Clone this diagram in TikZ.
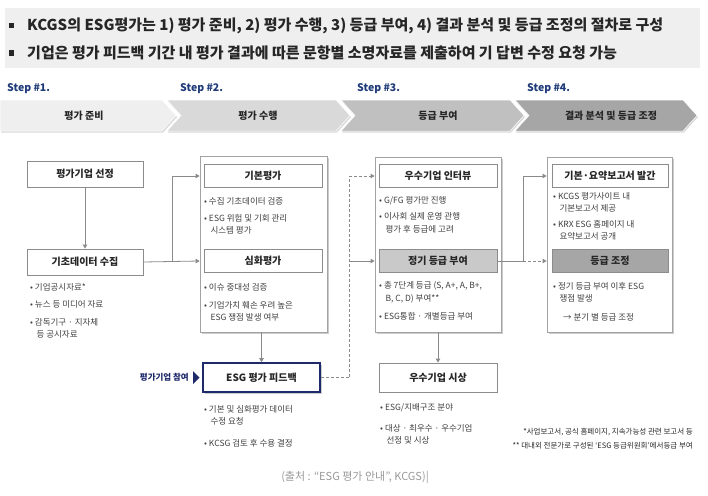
\documentclass[tikz,border=0pt]{standalone}
\usepackage{fontspec}
\setmainfont{Noto Sans CJK KR}
\usetikzlibrary{arrows.meta, shadows}

\definecolor{stepblue}{HTML}{1F3A78}
\definecolor{navy}{HTML}{1F2A6B}
\definecolor{headbg}{HTML}{EFEFEF}
\definecolor{chevA}{HTML}{EFEFEF}
\definecolor{chevB}{HTML}{D9D9D9}
\definecolor{chevC}{HTML}{C0C0C0}
\definecolor{chevD}{HTML}{A6A6A6}
\definecolor{linegray}{HTML}{8A8A8A}
\definecolor{boxgray}{HTML}{8C8C8C}
\definecolor{titletext}{HTML}{262626}
\definecolor{bultext}{HTML}{404040}

\tikzset{
  box/.style={draw=boxgray, fill=white, line width=0.8pt, minimum width=118pt, minimum height=23pt, inner sep=0pt, font=\fontsize{10}{12}\selectfont\bfseries, text=titletext},
  frame/.style={draw=boxgray!80, fill=white, line width=0.8pt, inner sep=0pt, drop shadow={shadow xshift=1.5pt, shadow yshift=-1.5pt, fill=black!40, opacity=.5}},
  bul/.style={anchor=west, align=left, inner sep=0pt, font=\fontsize{8.5}{12.5}\selectfont, text=bultext},
  chev/.style={draw=white, line width=0.5pt, drop shadow={shadow xshift=1pt, shadow yshift=-1.5pt, fill=black!30, opacity=.5}},
  chevtext/.style={font=\fontsize{10}{12}\selectfont\bfseries, text=titletext},
  steplabel/.style={anchor=west, inner sep=0pt, font=\fontsize{10.5}{12}\selectfont\bfseries, text=stepblue},
  line/.style={draw=linegray, line width=0.8pt},
  conn/.style={line, -{Triangle[width=4.5pt,length=4pt]}},
  dconn/.style={conn, dash pattern=on 3pt off 2pt},
  note/.style={anchor=east, inner sep=0pt, font=\fontsize{7.5}{9}\selectfont, text=titletext}
}

\begin{document}
\begin{tikzpicture}[x=1pt, y=-1pt]
\useasboundingbox (0,0) rectangle (708,495);

%Encabezado
\fill[headbg] (5,8) rectangle (700,68);
\fill[titletext] (9,23.5) rectangle (14,28.5);
\fill[titletext] (9,50.5) rectangle (14,55.5);
\node[anchor=west, inner sep=0pt, font=\fontsize{15}{17}\selectfont\bfseries, text=titletext] (head1) at (27,26) {KCGS의 ESG평가는 1) 평가 준비, 2) 평가 수행, 3) 등급 부여, 4) 결과 분석 및 등급 조정의 절차로 구성};
\node[anchor=west, inner sep=0pt, font=\fontsize{15}{17}\selectfont\bfseries, text=titletext] (head2) at (27,53) {기업은 평가 피드백 기간 내 평가 결과에 따른 문항별 소명자료를 제출하여 기 답변 수정 요청 가능};

%Pasos
\node[steplabel] (st1) at (7,89) {Step \#1.};
\node[steplabel] (st2) at (180,89) {Step \#2.};
\node[steplabel] (st3) at (357,89) {Step \#3.};
\node[steplabel] (st4) at (527,89) {Step \#4.};

\fill[chev, fill=chevA] (0,100) -- (162,100) -- (176,115.5) -- (162,131) -- (0,131) -- cycle;
\fill[chev, fill=chevB] (167,100) -- (336,100) -- (350,115.5) -- (336,131) -- (167,131) -- (181,115.5) -- cycle;
\fill[chev, fill=chevC] (341,100) -- (510,100) -- (524,115.5) -- (510,131) -- (341,131) -- (355,115.5) -- cycle;
\fill[chev, fill=chevD] (515,100) -- (683,100) -- (697,115.5) -- (683,131) -- (515,131) -- (529,115.5) -- cycle;
\node[chevtext] (ch1) at (84,116) {평가 준비};
\node[chevtext] (ch2) at (258,116) {평가 수행};
\node[chevtext] (ch3) at (438,116) {등급 부여};
\node[chevtext] (ch4) at (611,116) {결과 분석 및 등급 조정};

%Columna 1
\node[box, minimum width=116pt, minimum height=26pt] (sel) at (85,174) {평가기업 선정};
\node[box, minimum width=116pt, minimum height=26pt] (col) at (85,262) {기초데이터 수집};
\node[bul] (b11) at (30,287) {\textbullet\ 기업공시자료*};
\node[bul] (b12) at (30,304) {\textbullet\ 뉴스 등 미디어 자료};
\node[bul] (b13) at (30,328.5) {\textbullet\ 감독기구 · 지자체\\\hspace*{0.75em}등 공시자료};

%Columna 2
\node[frame, minimum width=127pt, minimum height=176pt] (c2) at (263.5,244) {};
\node[box] (basic) at (263,176) {기본평가};
\node[box] (deep) at (263,261) {심화평가};
\node[bul] (b21) at (204,201) {\textbullet\ 수집 기초데이터 검증};
\node[bul] (b22) at (204,224.5) {\textbullet\ ESG 위험 및 기회 관리\\\hspace*{0.75em}시스템 평가};
\node[bul] (b23) at (204,287) {\textbullet\ 이슈 중대성 검증};
\node[bul] (b24) at (204,311.5) {\textbullet\ 기업가치 훼손 우려 높은\\\hspace*{0.75em}ESG 쟁점 발생 여부};

\node[box, draw=navy, line width=1.6pt, minimum width=117pt, minimum height=29pt, drop shadow={shadow xshift=1.5pt, shadow yshift=-1.5pt, fill=black!40, opacity=.5}] (fb) at (261.5,377.5) {ESG 평가 피드백};
\node[anchor=east, inner sep=0pt, font=\fontsize{8.5}{10}\selectfont\bfseries, text=navy] (join) at (189,377) {평가기업 참여};
\fill[navy] (193,371) -- (199.5,377.5) -- (193,384) -- cycle;
\node[bul] (b25) at (204,415.5) {\textbullet\ 기본 및 심화평가 데이터\\\hspace*{0.75em}수정 요청};
\node[bul] (b26) at (204,443) {\textbullet\ KCSG 검토 후 수용 결정};

%Columna 3
\node[frame, minimum width=126pt, minimum height=175pt] (c3) at (438,244.5) {};
\node[box] (intv) at (438,176) {우수기업 인터뷰};
\node[box, fill=chevC!85] (rating) at (438,261) {정기 등급 부여};
\node[bul] (b31) at (379,201) {\textbullet\ G/FG 평가만 진행};
\node[bul] (b32) at (379,223) {\textbullet\ 이사회 실제 운영 관행\\\hspace*{0.75em}평가 후 등급에 고려};
\node[bul] (b33) at (379,292.5) {\textbullet\ 총 7단계 등급 (S, A+, A, B+,\\\hspace*{0.75em}B, C, D) 부여**};
\node[bul] (b34) at (379,316) {\textbullet\ ESG통합 · 개별등급 부여};

\node[box, minimum height=29pt] (award) at (438,377.5) {우수기업 시상};
\node[bul] (b35) at (380,408) {\textbullet\ ESG/지배구조 분야};
\node[bul] (b36) at (380,434.5) {\textbullet\ 대상 · 최우수 · 우수기업\\\hspace*{0.75em}선정 및 시상};

%Columna 4
\node[frame, minimum width=125pt, minimum height=175pt] (c4) at (609.5,244.5) {};
\node[box, minimum width=116pt] (pub) at (610,176) {기본·요약보고서 발간};
\node[box, minimum width=116pt, fill=chevD] (adj) at (610,261) {등급 조정};
\node[bul] (b41) at (553,202.5) {\textbullet\ KCGS 평가사이트 내\\\hspace*{0.75em}기본보고서 제공};
\node[bul] (b42) at (553,230.5) {\textbullet\ KRX ESG 홈페이지 내\\\hspace*{0.75em}요약보고서 공개};
\node[bul] (b43) at (553,292.5) {\textbullet\ 정기 등급 부여 이후 ESG\\\hspace*{0.75em}쟁점 발생};
\node[bul] (b44) at (563,317) {→ 분기 별 등급 조정};

%Conectores
\draw[conn] (sel) -- (col);
\coordinate (j1) at ([xshift=29pt]col.east);
\draw[conn] (col.east) -- (c2.west |- deep);
\draw[conn] (j1) |- (c2.west |- basic);
\draw[conn] (c2.south -| fb) -- (fb.north);
\coordinate (j2) at ([xshift=29pt]fb.east);
\draw[dconn] (fb.east) -- (j2) |- (c3.west |- intv);
\draw[conn] (j2 |- rating) -- (c3.west |- rating);
\draw[conn] (c3.south -| award) -- (award.north);
\coordinate (j3) at ([xshift=26pt]rating.east);
\draw[line] (rating.east) -- (j3);
\draw[conn] (j3) |- (c4.west |- pub);
\draw[dconn] (j3) -- (c4.west |- adj);

%Notas
\node[note] (n1) at (693,432) {*사업보고서, 공식 홈페이지, 지속가능성 관련 보고서 등};
\node[note] (n2) at (693,446) {** 대내외 전문가로 구성된 ‘ESG 등급위원회’에서등급 부여};
\node[inner sep=0pt, font=\fontsize{11}{13}\selectfont, text=black!40] (src) at (355,477) {(출처 : “ESG 평가 안내”, KCGS)|};
\end{tikzpicture}
\end{document}
